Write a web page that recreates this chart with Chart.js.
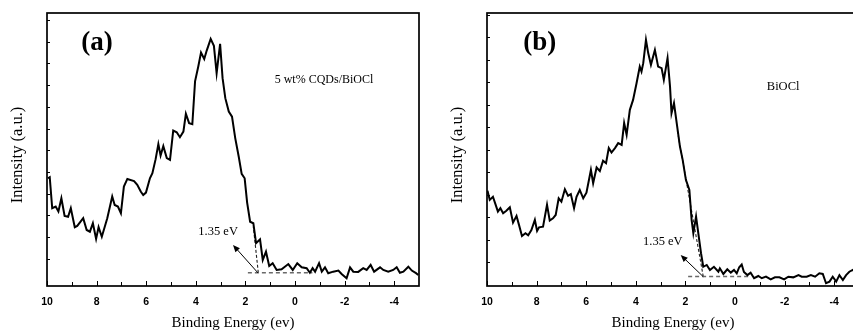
<!DOCTYPE html>
<html>
<head>
<meta charset="utf-8">
<script src="https://cdn.jsdelivr.net/npm/chart.js@4.4.1/dist/chart.umd.min.js"></script>
<style>
  html, body { margin: 0; padding: 0; background: #fff; overflow: hidden; width: 853px; height: 331px; }
  .panel { position: absolute; top: 0; width: 430px; height: 331px; }
  #wrapA { left: 0; }
  #wrapB { left: 440px; }
</style>
</head>
<body>
<div class="panel" id="wrapA"><canvas id="chartA" width="430" height="331"></canvas></div>
<div class="panel" id="wrapB"><canvas id="chartB" width="430" height="331"></canvas></div>
<script>
// axis ticks
const xTicks = [10, 8, 6, 4, 2, 0, -2, -4];
const xMinorTicks = [9, 7, 5, 3, 1, -1, -3];
const yMinorTicks = [0, 1, 2, 3, 4, 5, 6, 7, 8, 9, 10, 11];

// (a) 5 wt% CQDs/BiOCl
const energyA = [9.96, 9.89, 9.79, 9.65, 9.54, 9.42, 9.29, 9.15, 9.04, 8.88, 8.78, 8.54, 8.40, 8.27, 8.15, 8.02, 7.92, 7.79, 7.57, 7.37, 7.27, 7.14, 7.02, 6.90, 6.76, 6.49, 6.36, 6.22, 6.12, 6.01, 5.85, 5.75, 5.62, 5.51, 5.42, 5.31, 5.17, 5.04, 4.91, 4.77, 4.64, 4.50, 4.40, 4.27, 4.14, 4.03, 3.90, 3.79, 3.66, 3.56, 3.40, 3.27, 3.16, 3.02, 2.92, 2.81, 2.67, 2.54, 2.41, 2.27, 2.15, 2.03, 1.93, 1.81, 1.68, 1.57, 1.41, 1.30, 1.17, 1.04, 0.90, 0.74, 0.54, 0.27, 0.09, -0.09, -0.27, -0.47, -0.60, -0.71, -0.81, -0.97, -1.08, -1.21, -1.34, -1.54, -1.75, -1.88, -2.08, -2.22, -2.35, -2.55, -2.75, -2.89, -3.05, -3.19, -3.43, -3.56, -3.76, -3.96, -4.10, -4.23, -4.37, -4.57, -4.71, -4.88, -4.97];
const intensityA = [3.71, 3.76, 2.33, 2.41, 2.18, 2.79, 1.98, 1.94, 2.33, 1.46, 1.52, 1.87, 1.33, 1.25, 1.64, 0.92, 1.46, 1.02, 1.87, 2.87, 2.48, 2.41, 2.10, 3.33, 3.68, 3.58, 3.41, 3.10, 2.94, 3.05, 3.71, 3.94, 4.59, 5.28, 4.76, 5.19, 4.64, 4.56, 5.91, 5.83, 5.60, 5.86, 6.68, 6.25, 6.20, 8.17, 8.86, 9.50, 9.20, 9.59, 10.13, 9.81, 8.55, 9.90, 8.32, 7.40, 6.78, 6.55, 5.56, 4.71, 3.91, 3.71, 2.59, 1.71, 1.64, 0.72, 0.90, -0.05, 0.33, -0.33, -0.20, -0.51, -0.48, -0.24, -0.51, -0.20, -0.39, -0.43, -0.64, -0.43, -0.59, -0.20, -0.59, -0.39, -0.66, -0.59, -0.54, -0.70, -0.89, -0.39, -0.59, -0.60, -0.43, -0.51, -0.28, -0.59, -0.39, -0.51, -0.59, -0.51, -0.39, -0.64, -0.59, -0.36, -0.54, -0.66, -0.74];
const baselineA = { e: [1.90, -0.70], v: [-0.64, -0.64] };
const tangentA = { e: [1.48, 1.68], v: [-0.64, 1.48] };
const arrowA = { e: [1.49, 2.50], v: [-0.65, 0.64] };

// (b) BiOCl
const energyB = [9.98, 9.89, 9.76, 9.65, 9.56, 9.46, 9.35, 9.22, 9.08, 8.95, 8.81, 8.71, 8.59, 8.45, 8.34, 8.21, 8.07, 7.98, 7.90, 7.74, 7.58, 7.47, 7.34, 7.23, 7.11, 7.00, 6.86, 6.73, 6.62, 6.49, 6.39, 6.26, 6.12, 5.99, 5.81, 5.72, 5.58, 5.45, 5.32, 5.20, 5.09, 4.98, 4.84, 4.71, 4.57, 4.47, 4.37, 4.24, 4.11, 3.97, 3.84, 3.77, 3.70, 3.59, 3.50, 3.39, 3.23, 3.10, 2.96, 2.87, 2.72, 2.62, 2.56, 2.46, 2.35, 2.22, 2.11, 1.98, 1.84, 1.75, 1.68, 1.57, 1.48, 1.37, 1.28, 1.14, 1.01, 0.85, 0.67, 0.61, 0.47, 0.31, 0.17, 0.04, -0.07, -0.17, -0.27, -0.36, -0.50, -0.63, -0.77, -0.94, -1.08, -1.25, -1.44, -1.61, -1.79, -1.98, -2.15, -2.35, -2.56, -2.69, -2.89, -3.06, -3.23, -3.40, -3.54, -3.67, -3.81, -3.94, -4.08, -4.21, -4.35, -4.48, -4.61, -4.75, -4.90];
const intensityB = [3.19, 2.78, 2.92, 2.56, 2.26, 2.41, 2.19, 2.30, 2.45, 1.77, 2.07, 1.67, 1.18, 1.30, 1.21, 1.44, 1.89, 1.40, 1.56, 1.59, 2.56, 1.86, 1.96, 2.11, 2.85, 2.70, 3.25, 2.96, 3.04, 2.41, 2.92, 3.22, 2.85, 3.10, 4.11, 3.52, 4.22, 4.06, 4.52, 4.41, 5.08, 4.88, 5.08, 5.30, 5.22, 6.19, 5.67, 6.78, 7.22, 7.96, 8.70, 8.48, 8.85, 9.89, 9.30, 8.78, 9.44, 8.70, 8.63, 8.11, 9.08, 7.81, 6.63, 7.08, 6.19, 5.15, 4.56, 3.67, 3.22, 1.89, 1.30, 2.04, 1.30, 0.41, -0.19, -0.11, -0.33, -0.19, -0.41, -0.26, -0.51, -0.30, -0.45, -0.33, -0.48, -0.21, -0.09, -0.42, -0.56, -0.45, -0.70, -0.60, -0.70, -0.63, -0.75, -0.66, -0.66, -0.75, -0.63, -0.66, -0.56, -0.63, -0.63, -0.56, -0.63, -0.48, -0.51, -0.92, -0.85, -0.63, -0.85, -0.56, -0.78, -0.56, -0.41, -0.33, -0.45];
const baselineB = { e: [1.89, -0.61], v: [-0.62, -0.62] };
const tangentB = { e: [1.28, 2.33], v: [-0.62, 5.89] };
const arrowB = { e: [1.28, 2.19], v: [-0.63, 0.33] };

const toPoints = (xs, ys) => xs.map((x, i) => ({ x: x, y: ys[i] }));

// frame, inward ticks, arrow, y title and in-plot labels
const decor = {
  id: "decor",
  afterDraw(chart, args, o) {
    const { ctx, chartArea: a, scales: { x, y } } = chart;
    ctx.save();
    ctx.strokeStyle = "#000";
    ctx.lineWidth = 1;
    ctx.beginPath();
    xTicks.forEach(v => {
      const px = Math.round(x.getPixelForValue(v)) + 0.5;
      ctx.moveTo(px, a.bottom); ctx.lineTo(px, a.bottom - 5);
    });
    xMinorTicks.forEach(v => {
      const px = Math.round(x.getPixelForValue(v)) + 0.5;
      ctx.moveTo(px, a.bottom); ctx.lineTo(px, a.bottom - 4);
    });
    yMinorTicks.forEach(v => {
      const py = Math.round(y.getPixelForValue(v)) + 0.5;
      ctx.moveTo(a.left, py); ctx.lineTo(a.left + 3, py);
    });
    ctx.stroke();

    ctx.lineWidth = 1.7;
    ctx.strokeRect(a.left, a.top, a.right - a.left, a.bottom - a.top);

    // arrow
    const x0 = x.getPixelForValue(o.arrow.e[0]), y0 = y.getPixelForValue(o.arrow.v[0]);
    const x1 = x.getPixelForValue(o.arrow.e[1]), y1 = y.getPixelForValue(o.arrow.v[1]);
    const ang = Math.atan2(y1 - y0, x1 - x0);
    ctx.lineWidth = 1;
    ctx.beginPath();
    ctx.moveTo(x0, y0);
    ctx.lineTo(x1 - 5 * Math.cos(ang), y1 - 5 * Math.sin(ang));
    ctx.stroke();
    ctx.fillStyle = "#000";
    ctx.beginPath();
    ctx.moveTo(x1, y1);
    ctx.lineTo(x1 - 7 * Math.cos(ang) + 3 * Math.sin(ang), y1 - 7 * Math.sin(ang) - 3 * Math.cos(ang));
    ctx.lineTo(x1 - 7 * Math.cos(ang) - 3 * Math.sin(ang), y1 - 7 * Math.sin(ang) + 3 * Math.cos(ang));
    ctx.closePath();
    ctx.fill();

    // labels
    ctx.textAlign = "center";
    ctx.textBaseline = "middle";
    o.labels.forEach(l => {
      ctx.font = l.font;
      ctx.fillText(l.text, x.getPixelForValue(l.x), y.getPixelForValue(l.y));
    });

    // y title
    ctx.translate(18, (a.top + a.bottom) / 2 + 5.5);
    ctx.rotate(-Math.PI / 2);
    ctx.font = "16.5px 'Liberation Serif'";
    ctx.fillText("Intensity (a.u.)", 0, 0);
    ctx.restore();
  }
};

function makeChart(id, energy, intensity, baseline, tangent, arrow, yMin, yMax, labels) {
  return new Chart(document.getElementById(id), {
    type: "line",
    data: {
      datasets: [
        {
          data: toPoints(energy, intensity),
          borderColor: "#000",
          borderWidth: 2,
          pointRadius: 0,
          tension: 0,
        },
        {
          data: toPoints(baseline.e, baseline.v),
          borderColor: "#6a6a6a",
          borderWidth: 1.4,
          borderDash: [4, 3],
          pointRadius: 0,
        },
        {
          data: toPoints(tangent.e, tangent.v),
          borderColor: "#222",
          borderWidth: 1.1,
          borderDash: [3, 2],
          pointRadius: 0,
        },
      ],
    },
    options: {
      responsive: false,
      animation: false,
      layout: { padding: { top: 13, right: 11, left: 0, bottom: 0 } },
      plugins: {
        legend: { display: false },
        tooltip: { enabled: false },
        decor: { arrow: arrow, labels: labels },
      },
      scales: {
        x: {
          type: "linear",
          reverse: true,
          min: -5,
          max: 10,
          afterBuildTicks: (s) => { s.ticks = xTicks.map(v => ({ value: v })); },
          afterFit: (s) => { s.height = 45; },
          grid: { display: false, drawTicks: false },
          border: { display: false },
          ticks: {
            padding: 10,
            color: "#000",
            autoSkip: false,
            maxRotation: 0,
            font: { family: "Liberation Sans", size: 10.5, weight: "bold" },
          },
          title: {
            display: true,
            text: "Binding Energy (ev)",
            color: "#000",
            font: { family: "Liberation Serif", size: 15, lineHeight: 1 },
            padding: { top: 0, bottom: 0.5 },
          },
        },
        y: {
          type: "linear",
          min: yMin,
          max: yMax,
          afterFit: (s) => { s.width = 47; },
          grid: { display: false, drawTicks: false },
          border: { display: false },
          ticks: { display: false },
        },
      },
    },
    plugins: [decor],
  });
}

makeChart("chartA", energyA, intensityA, baselineA, tangentA, arrowA, -1.25, 11.32, [
  { text: "(a)", x: 7.98, y: 9.95, font: "bold 27px 'Liberation Serif'" },
  { text: "5 wt% CQDs/BiOCl", x: -1.17, y: 8.24, font: "12px 'Liberation Serif'" },
  { text: "1.35 eV", x: 3.10, y: 1.24, font: "12.5px 'Liberation Serif'" },
]);

makeChart("chartB", energyB, intensityB, baselineB, tangentB, arrowB, -1.044, 11.08, [
  { text: "(b)", x: 7.87, y: 9.76, font: "bold 27px 'Liberation Serif'" },
  { text: "BiOCl", x: -1.94, y: 7.8, font: "12.5px 'Liberation Serif'" },
  { text: "1.35 eV", x: 2.91, y: 0.91, font: "12.5px 'Liberation Serif'" },
]);
</script>
</body>
</html>
